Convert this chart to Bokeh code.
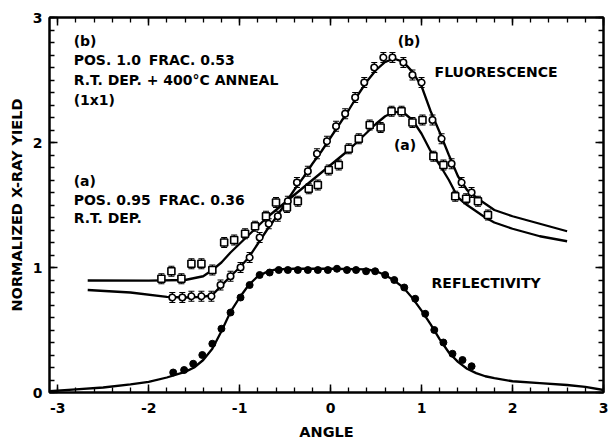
import numpy as np
from bokeh.plotting import figure
from bokeh.models import (Range1d, LinearAxis, FixedTicker, Whisker, TeeHead,
                          ColumnDataSource, Label)
from bokeh.embed import file_html
from bokeh.resources import INLINE

# ---------------- data ----------------
XTICKS = [-3, -2, -1, 0, 1, 2, 3]
XTICK_LABELS = ["-3", "-2", "-1", "0", "1", "2", "3"]
YTICKS = [0, 1, 2, 3]
YTICK_LABELS = ["0", "1", "2", "3"]

# reflectivity data points (filled circles)
REFL_X = [-1.73, -1.61, -1.51, -1.41, -1.30, -1.20, -1.10, -0.99, -0.89, -0.78,
          -0.67, -0.57, -0.47, -0.36, -0.25, -0.14, -0.03, 0.07, 0.18, 0.28,
          0.39, 0.49, 0.60, 0.70, 0.81, 0.93, 1.04, 1.14, 1.24, 1.34,
          1.45, 1.55]
REFL_Y = [0.16, 0.18, 0.23, 0.30, 0.39, 0.51, 0.64, 0.76, 0.86, 0.94,
          0.96, 0.98, 0.98, 0.98, 0.98, 0.98, 0.98, 0.99, 0.98, 0.98,
          0.97, 0.97, 0.94, 0.90, 0.84, 0.75, 0.63, 0.50, 0.40, 0.31,
          0.26, 0.21]

# reflectivity fit curve
REFL_CX = [-3.09, -2.8, -2.5, -2.2, -2.0, -1.8, -1.6, -1.5, -1.4, -1.3, -1.2,
           -1.1, -1.0, -0.9, -0.8, -0.7, -0.6, -0.4, 0.0, 0.4, 0.5, 0.6, 0.7,
           0.8, 0.9, 1.0, 1.1, 1.2, 1.3, 1.4, 1.5, 1.6, 1.7, 1.8, 2.0, 2.3,
           2.6, 2.8, 3.0]
REFL_CY = [0.01, 0.025, 0.04, 0.065, 0.085, 0.12, 0.165, 0.20, 0.26, 0.35, 0.49,
           0.645, 0.76, 0.86, 0.93, 0.965, 0.985, 0.99, 0.99, 0.985, 0.97, 0.94, 0.895,
           0.84, 0.755, 0.655, 0.545, 0.425, 0.32, 0.245, 0.19, 0.155, 0.13, 0.115,
           0.09, 0.075, 0.06, 0.045, 0.02]

# fluorescence (b): POS 1.0, FRAC 0.53 (open circles)
FB_X = [-1.74, -1.63, -1.53, -1.42, -1.31, -1.21, -1.10, -0.99, -0.89, -0.78,
        -0.68, -0.58, -0.47, -0.37, -0.25, -0.15, -0.04, 0.06, 0.16, 0.27,
        0.37, 0.48, 0.58, 0.68, 0.80, 0.90, 1.00, 1.12, 1.22, 1.33,
        1.44, 1.55]
FB_Y = [0.76, 0.76, 0.77, 0.77, 0.77, 0.86, 0.93, 1.00, 1.08, 1.24,
        1.35, 1.41, 1.53, 1.68, 1.77, 1.91, 2.01, 2.13, 2.23, 2.36,
        2.48, 2.60, 2.68, 2.68, 2.64, 2.54, 2.48, 2.18, 2.03, 1.83,
        1.68, 1.60]
FB_CX = [-2.67, -2.2, -1.8, -1.6, -1.4, -1.3, -1.2, -1.1, -1.0, -0.9, -0.8,
         -0.7, -0.6, -0.5, -0.4, -0.3, -0.2, -0.1, 0.0, 0.1, 0.2, 0.3, 0.4,
         0.5, 0.6, 0.7, 0.8, 0.9, 1.0, 1.1, 1.2, 1.3, 1.4, 1.5, 1.6, 1.7,
         1.8, 2.0, 2.2, 2.4, 2.6]
FB_CY = [0.82, 0.80, 0.765, 0.76, 0.765, 0.78, 0.855, 0.93, 1.00, 1.08, 1.19,
         1.30, 1.40, 1.51, 1.62, 1.72, 1.83, 1.93, 2.04, 2.15, 2.26, 2.38, 2.49,
         2.58, 2.645, 2.67, 2.645, 2.565, 2.45, 2.25, 2.08, 1.90, 1.73, 1.62,
         1.56, 1.51, 1.46, 1.41, 1.37, 1.33, 1.29]

# fluorescence (a): POS 0.95, FRAC 0.36 (open squares)
FA_X = [-1.86, -1.75, -1.64, -1.53, -1.42, -1.30, -1.17, -1.06, -0.94, -0.83,
        -0.71, -0.60, -0.48, -0.36, -0.24, -0.14, -0.02, 0.09, 0.20, 0.31,
        0.43, 0.55, 0.67, 0.78, 0.90, 1.01, 1.13, 1.24, 1.37, 1.49,
        1.62, 1.73]
FA_Y = [0.91, 0.97, 0.91, 1.03, 1.03, 0.98, 1.20, 1.22, 1.27, 1.33,
        1.41, 1.52, 1.48, 1.53, 1.63, 1.66, 1.78, 1.82, 1.95, 2.03,
        2.14, 2.12, 2.25, 2.25, 2.16, 2.18, 1.89, 1.82, 1.57, 1.55,
        1.53, 1.42]
FA_CX = [-2.67, -2.0, -1.6, -1.4, -1.3, -1.2, -1.1, -1.0, -0.9, -0.8, -0.7,
         -0.6, -0.5, -0.4, -0.3, -0.2, -0.1, 0.0, 0.1, 0.2, 0.3, 0.4, 0.5,
         0.6, 0.7, 0.8, 0.9, 1.0, 1.1, 1.2, 1.3, 1.4, 1.5, 1.6, 1.7, 1.8,
         2.0, 2.1, 2.3, 2.6]
FA_CY = [0.896, 0.895, 0.90, 0.93, 0.98, 1.04, 1.12, 1.19, 1.26, 1.33, 1.40,
         1.46, 1.52, 1.58, 1.64, 1.70, 1.76, 1.82, 1.88, 1.94, 2.01, 2.08, 2.15,
         2.21, 2.245, 2.24, 2.18, 2.07, 1.93, 1.82, 1.70, 1.56, 1.50, 1.45, 1.40,
         1.36, 1.31, 1.29, 1.25, 1.21]

FLUOR_ERR = 0.04

# ---------------- figure ----------------
FONT = "DejaVu Sans"

p = figure(width=609, height=442,
           x_range=Range1d(-3.09, 3.0), y_range=Range1d(0, 3),
           output_backend="svg", toolbar_location=None,
           min_border_left=49, min_border_right=6,
           min_border_top=17, min_border_bottom=49,
           x_axis_label="ANGLE", y_axis_label="NORMALIZED X-RAY YIELD")
p.grid.visible = False
p.outline_line_color = "black"
p.outline_line_width = 2
p.background_fill_color = "white"
p.border_fill_color = "white"

xminor = list(np.round(np.arange(-3.0, 3.01, 0.2), 2))
yminor = list(np.round(np.arange(0.0, 3.01, 0.1), 2))


def style_axis(ax, ticks, minor, labels_visible=True, overrides=None):
    ax.ticker = FixedTicker(ticks=ticks, minor_ticks=minor)
    ax.axis_line_color = "black"
    ax.axis_line_width = 2
    ax.major_tick_in = 8
    ax.major_tick_out = 0
    ax.minor_tick_in = 5
    ax.minor_tick_out = 0
    ax.major_tick_line_width = 1.5
    ax.minor_tick_line_width = 1.3
    ax.major_tick_line_color = "black"
    ax.minor_tick_line_color = "black"
    if labels_visible:
        ax.major_label_text_font = FONT
        ax.major_label_text_font_size = "14px"
        ax.major_label_text_font_style = "bold"
        ax.major_label_text_color = "black"
        if overrides:
            ax.major_label_overrides = overrides
    else:
        ax.major_label_text_font_size = "1px"
        ax.major_label_text_color = None
        ax.major_label_standoff = 0


xax = p.xaxis[0]
yax = p.yaxis[0]
style_axis(xax, XTICKS, xminor, True, dict(zip(XTICKS, XTICK_LABELS)))
style_axis(yax, YTICKS, yminor, True, dict(zip(YTICKS, YTICK_LABELS)))
xax.major_label_standoff = 10
yax.major_label_standoff = 7
for ax in (xax, yax):
    ax.axis_label_text_font = FONT
    ax.axis_label_text_font_size = "14.5px"
    ax.axis_label_text_font_style = "bold"
    ax.axis_label_text_color = "black"
xax.axis_label_standoff = 8
yax.axis_label_standoff = 5

top = LinearAxis()
right = LinearAxis()
style_axis(top, XTICKS, xminor, False)
style_axis(right, YTICKS, yminor, False)
p.add_layout(top, "above")
p.add_layout(right, "right")

# fit curves
p.line(REFL_CX, REFL_CY, line_color="black", line_width=2.3)
p.line(FB_CX, FB_CY, line_color="black", line_width=2.3)
p.line(FA_CX, FA_CY, line_color="black", line_width=2.3)

# error bars
for xs, ys in ((FB_X, FB_Y), (FA_X, FA_Y)):
    src = ColumnDataSource(dict(x=xs,
                                upper=[v + FLUOR_ERR for v in ys],
                                lower=[v - FLUOR_ERR for v in ys]))
    w = Whisker(source=src, base="x", upper="upper", lower="lower",
                dimension="height", line_color="black", line_width=1.2,
                upper_head=TeeHead(size=6, line_color="black", line_width=1.2),
                lower_head=TeeHead(size=6, line_color="black", line_width=1.2),
                level="underlay")
    p.add_layout(w)

# data points
p.scatter(REFL_X, REFL_Y, marker="circle", size=7, fill_color="black",
          line_color="black")
p.scatter(FB_X, FB_Y, marker="circle", size=6.5, fill_color="white",
          line_color="black", line_width=1.6)
p.scatter(FA_X, FA_Y, marker="square", size=7, fill_color="white",
          line_color="black", line_width=1.6)

# annotations
def lab(x, y, t, align="left"):
    p.add_layout(Label(x=x, y=y, text=t, text_font=FONT, text_font_size="14px",
                       text_font_style="bold",
                       text_color="black", text_align=align,
                       text_baseline="alphabetic"))

lab(-2.824, 2.81, "(b)")
lab(-2.824, 2.658, "POS. 1.0")
lab(-2.00, 2.658, "FRAC. 0.53")
lab(-2.824, 2.498, "R.T. DEP. + 400°C ANNEAL")
lab(-2.824, 2.338, "(1x1)")
lab(-2.824, 1.692, "(a)")
lab(-2.824, 1.540, "POS. 0.95")
lab(-1.89, 1.540, "FRAC. 0.36")
lab(-2.824, 1.397, "R.T. DEP.")
lab(0.863, 2.81, "(b)", "center")
lab(1.143, 2.562, "FLUORESCENCE")
lab(0.819, 1.98, "(a)", "center")
lab(1.11, 0.878, "REFLECTIVITY")

open("out.html", "w").write(file_html(p, INLINE))
